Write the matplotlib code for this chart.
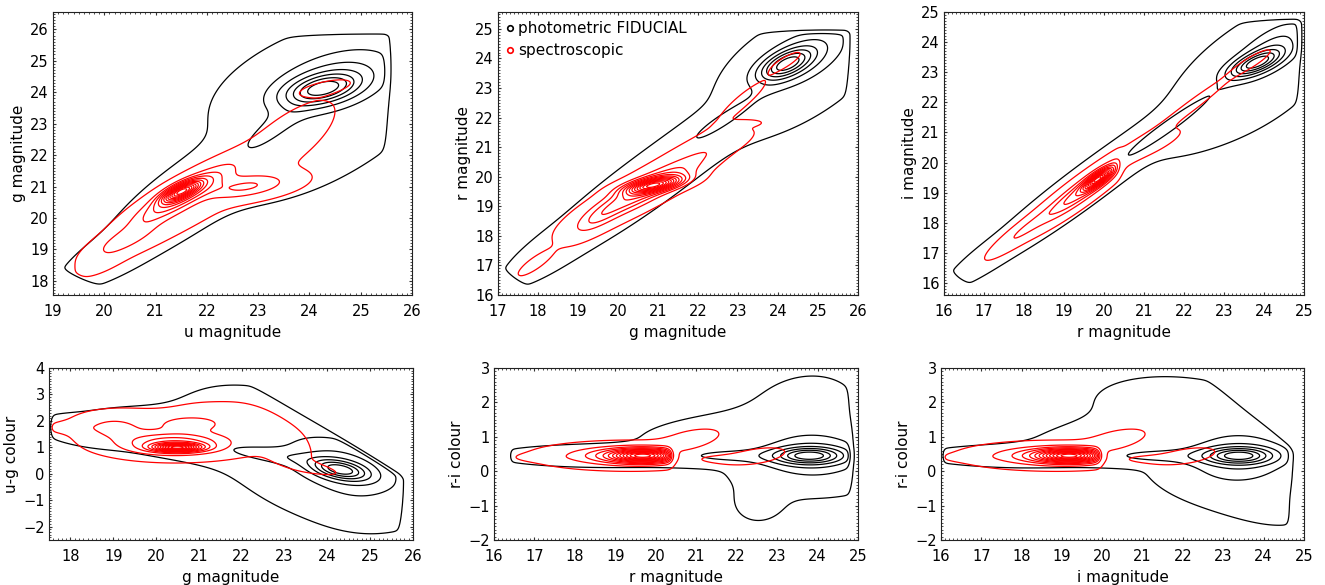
import numpy as np
import matplotlib.pyplot as plt
from matplotlib.ticker import MultipleLocator
from matplotlib.lines import Line2D

plt.rcParams['font.family'] = ['DejaVu Sans']

# density model, one row per blob:
# (centre x, centre y, sigma major, sigma minor, angle deg, weight, x cut)
NO = 99.0

ug_phot = [(24.25, 24.1, 0.50, 0.28, 25, 1.00, NO),
           (24.45, 24.4, 0.90, 0.52, 35, 0.40, NO),
           (23.2, 22.75, 0.75, 0.22, 52, 0.18, NO),
           (24.4, 23.7, 1.40, 0.90, 55, 0.06, NO),
           (21.6, 20.6, 1.30, 0.45, 52, 0.05, NO),
           (20.1, 18.75, 0.80, 0.30, 47, 0.035, NO),
           (23.3, 21.6, 0.90, 0.50, 35, 0.04, NO)]
ug_spec = [(21.5, 20.85, 0.30, 0.12, 42, 1.00, NO),
           (21.5, 20.7, 0.80, 0.20, 45, 0.40, NO),
           (22.8, 21.0, 0.55, 0.22, 15, 0.20, NO),
           (20.4, 19.3, 0.50, 0.18, 40, 0.15, NO),
           (21.7, 20.4, 1.50, 0.34, 45, 0.04, NO),
           (19.95, 18.6, 0.40, 0.16, 45, 0.03, NO),
           (24.3, 24.15, 0.35, 0.12, 20, 0.025, NO),
           (23.6, 22.6, 1.20, 0.45, 55, 0.025, NO)]

gr_phot = [(24.2, 23.8, 0.50, 0.25, 35, 1.00, NO),
           (24.6, 24.1, 0.90, 0.45, 40, 0.35, NO),
           (22.6, 21.9, 1.00, 0.20, 42, 0.18, NO),
           (24.6, 23.4, 1.40, 0.62, 45, 0.06, NO),
           (20.8, 19.9, 2.30, 0.42, 45, 0.05, NO),
           (18.2, 17.4, 0.80, 0.27, 45, 0.03, NO)]
gr_spec = [(20.9, 19.72, 0.45, 0.14, 15, 1.00, NO),
           (20.6, 19.5, 1.00, 0.24, 35, 0.40, NO),
           (19.5, 18.6, 0.50, 0.18, 42, 0.12, NO),
           (22.3, 20.9, 0.70, 0.20, 30, 0.06, NO),
           (20.9, 19.9, 2.00, 0.30, 45, 0.03, NO),
           (23.2, 21.8, 0.30, 0.08, 5, 0.02, NO),
           (24.2, 23.9, 0.40, 0.12, 40, 0.025, NO),
           (23.2, 22.7, 0.70, 0.15, 48, 0.02, NO),
           (17.9, 17.05, 0.40, 0.12, 45, 0.03, NO)]

ri_phot = [(23.8, 23.3, 0.50, 0.20, 30, 1.00, NO),
           (24.2, 23.8, 0.80, 0.35, 45, 0.35, NO),
           (21.6, 21.2, 1.20, 0.15, 44, 0.22, NO),
           (23.8, 23.0, 1.40, 0.70, 45, 0.06, NO),
           (19.6, 19.3, 2.20, 0.31, 45, 0.05, NO),
           (17.0, 16.8, 0.70, 0.18, 45, 0.03, NO),
           (22.6, 21.2, 1.00, 0.35, 30, 0.03, NO)]
ri_spec = [(19.85, 19.45, 0.30, 0.10, 45, 1.00, 20.35),
           (19.5, 19.1, 0.90, 0.17, 45, 0.35, 20.4),
           (18.0, 17.75, 0.60, 0.12, 45, 0.10, NO),
           (19.6, 19.3, 2.00, 0.21, 45, 0.03, NO),
           (21.3, 20.6, 0.60, 0.16, 35, 0.025, NO),
           (23.7, 23.35, 0.50, 0.12, 40, 0.025, NO),
           (22.4, 22.1, 0.90, 0.12, 45, 0.02, NO)]

gug_phot = [(24.3, 0.15, 0.45, 0.22, -20, 1.00, NO),
            (24.4, 0.3, 0.95, 0.60, -35, 0.40, NO),
            (22.7, 0.7, 0.90, 0.20, -12, 0.20, NO),
            (24.0, 0.3, 1.50, 1.00, -40, 0.05, NO),
            (20.6, 1.5, 1.40, 0.50, -10, 0.05, NO),
            (22.0, 1.9, 1.00, 0.80, -30, 0.03, NO),
            (18.3, 1.6, 0.60, 0.28, -15, 0.04, NO),
            (24.6, -1.1, 0.60, 0.45, -40, 0.03, NO)]
gug_spec = [(20.5, 1.0, 0.35, 0.10, 0, 1.00, NO),
            (20.4, 1.15, 0.80, 0.28, 0, 0.35, NO),
            (20.8, 1.9, 0.45, 0.18, 0, 0.15, NO),
            (19.0, 1.75, 0.45, 0.28, 0, 0.12, NO),
            (20.6, 1.65, 1.60, 0.55, -5, 0.035, NO),
            (21.5, 2.3, 0.60, 0.30, -10, 0.02, NO),
            (22.8, 1.3, 0.90, 0.35, -55, 0.03, NO),
            (23.6, 0.25, 0.50, 0.12, -20, 0.025, NO),
            (18.1, 1.75, 0.40, 0.13, 0, 0.03, NO)]

rri_phot = [(23.8, 0.45, 0.55, 0.16, 0, 1.00, NO),
            (23.9, 0.45, 0.85, 0.45, 0, 0.35, NO),
            (21.9, 0.45, 1.00, 0.15, 0, 0.20, NO),
            (18.8, 0.45, 1.50, 0.18, 0, 0.05, NO),
            (23.6, 1.50, 1.00, 0.80, 30, 0.025, NO),
            (21.2, 1.20, 1.20, 0.30, 10, 0.02, NO),
            (22.6, -0.8, 0.50, 0.45, 45, 0.02, NO)]
rri_spec = [(19.7, 0.45, 0.50, 0.12, 0, 1.00, 20.35),
            (19.3, 0.45, 1.00, 0.18, 0, 0.30, 20.4),
            (20.8, 0.90, 0.60, 0.20, 15, 0.03, NO),
            (22.5, 0.45, 0.60, 0.17, 10, 0.025, NO),
            (21.6, 0.35, 0.60, 0.10, 0, 0.015, NO),
            (17.2, 0.40, 0.50, 0.08, 0, 0.015, NO)]

iri_phot = [(23.4, 0.45, 0.55, 0.16, 0, 1.00, NO),
            (23.4, 0.40, 0.85, 0.50, 0, 0.35, NO),
            (21.4, 0.45, 1.00, 0.15, 0, 0.20, NO),
            (18.3, 0.45, 1.50, 0.18, 0, 0.05, NO),
            (21.9, 1.85, 1.30, 0.55, -5, 0.03, NO),
            (19.5, 1.05, 1.10, 0.30, 15, 0.018, NO),
            (23.3, -0.6, 1.20, 0.45, -25, 0.025, NO)]
iri_spec = [(19.2, 0.45, 0.50, 0.12, 0, 1.00, 19.9),
            (18.8, 0.45, 1.00, 0.18, 0, 0.30, 19.95),
            (20.3, 0.90, 0.60, 0.20, 15, 0.03, NO),
            (22.1, 0.45, 0.60, 0.17, 10, 0.025, NO),
            (21.1, 0.35, 0.60, 0.10, 0, 0.015, NO),
            (16.7, 0.40, 0.50, 0.08, 0, 0.015, NO)]

# survey limits as half planes a*x + b*y < c
ug_lims = [(1, 0, 25.5), (0, 1, 25.8), (-0.6, -0.8, -26.2)]
gr_lims = [(1, 0, 25.72), (0, 1, 24.87), (-0.7, -0.7, -23.8)]
ri_lims = [(1, 0, 24.85), (0, 1, 24.68), (-0.7, -0.7, -22.8)]
gug_lims = [(1, 0, 25.7), (1, 1, 25.6), (-1, 0, -17.55)]
rri_lims = [(1, 0, 24.8), (-1, 0, -16.4)]
iri_lims = [(1, 0, 24.65), (1, 1, 25.3), (-1, 0, -16.05)]

phot_levels = [0.006, 0.12, 0.25, 0.4, 0.55, 0.7, 0.85]
spec_levels = [0.01, 0.08, 0.15, 0.22, 0.3, 0.38, 0.46, 0.54, 0.62, 0.7,
               0.78, 0.86, 0.94]


def density(X, Y, comps, lims):
    Z = np.zeros_like(X)
    for cx, cy, s1, s2, ang, w, xcut in comps:
        t = np.radians(ang)
        a = ((X - cx) * np.cos(t) + (Y - cy) * np.sin(t)) / s1
        b = (-(X - cx) * np.sin(t) + (Y - cy) * np.cos(t)) / s2
        cut = 1 + np.exp(np.clip((X - xcut) / 0.05, -50, 50))
        Z += w * np.exp(-0.5 * (a**2 + b**2)) / cut
    for a, b, c in lims:
        Z /= 1 + np.exp(np.clip((a * X + b * Y - c) / 0.03, -50, 50))
    return Z / Z.max()


panels = [
    # rect in pixels (left, top, right, bottom), xlim, ylim, xticks, yticks, labels, data
    ((53, 12, 412, 295), (19, 26), (17.55, 26.55), range(19, 27), range(18, 27),
     'u magnitude', 'g magnitude', ug_phot, ug_spec, ug_lims),
    ((498, 12, 858, 295), (17, 26), (16, 25.57), range(17, 27), range(16, 26),
     'g magnitude', 'r magnitude', gr_phot, gr_spec, gr_lims),
    ((944, 12, 1304, 295), (16, 25), (15.6, 25), range(16, 26), range(16, 26),
     'r magnitude', 'i magnitude', ri_phot, ri_spec, ri_lims),
    ((49, 368, 413, 540), (17.5, 26), (-2.5, 4), range(18, 27), range(-2, 5),
     'g magnitude', 'u-g colour', gug_phot, gug_spec, gug_lims),
    ((494, 368, 858, 540), (16, 25), (-2, 3), range(16, 26), range(-2, 4),
     'r magnitude', 'r-i colour', rri_phot, rri_spec, rri_lims),
    ((941, 368, 1304, 540), (16, 25), (-2, 3), range(16, 26), range(-2, 4),
     'i magnitude', 'r-i colour', iri_phot, iri_spec, iri_lims),
]

W, H = 1325, 585
fig = plt.figure(figsize=(W / 100, H / 100), dpi=100)

for k, (rect, xl, yl, xt, yt, xlab, ylab, phot, spec, lims) in enumerate(panels):
    l, t, r, b = rect
    ax = fig.add_axes([l / W, 1 - b / H, (r - l) / W, (b - t) / H])
    xs = np.linspace(xl[0], xl[1], 500)
    ys = np.linspace(yl[0], yl[1], 500)
    X, Y = np.meshgrid(xs, ys)
    ax.contour(X, Y, density(X, Y, phot, lims), levels=phot_levels,
               colors='black', linewidths=0.9)
    ax.contour(X, Y, density(X, Y, spec, lims), levels=spec_levels,
               colors='red', linewidths=0.9)
    ax.set_xlim(xl)
    ax.set_ylim(yl)
    ax.set_xticks(list(xt))
    ax.set_yticks(list(yt))
    ax.xaxis.set_minor_locator(MultipleLocator(0.1))
    ax.yaxis.set_minor_locator(MultipleLocator(0.1))
    ax.tick_params(which='both', direction='in', top=True, right=True,
                   labelsize=10.5, color='#333333')
    ax.tick_params(axis='x', pad=6.5)
    ax.tick_params(axis='y', pad=3)
    ax.tick_params(which='major', length=2.5, width=0.8)
    ax.tick_params(which='minor', length=1.5, width=0.6)
    for s in ax.spines.values():
        s.set_linewidth(0.8)
        s.set_color('#222222')
    ax.set_xlabel(xlab, fontsize=11, labelpad=4)
    ax.set_ylabel(ylab, fontsize=11, labelpad=3)
    if k == 1:
        handles = [Line2D([], [], ls='none', marker='o', ms=4, mfc='none',
                          mec='black', mew=1.2),
                   Line2D([], [], ls='none', marker='o', ms=4, mfc='none',
                          mec='red', mew=1.2)]
        ax.legend(handles, ['photometric FIDUCIAL', 'spectroscopic'],
                  loc='upper left', frameon=False, fontsize=11,
                  handlelength=0.4, handletextpad=0.3, borderaxespad=0.2,
                  labelspacing=0.45)

fig.savefig('out.png', dpi=100)
